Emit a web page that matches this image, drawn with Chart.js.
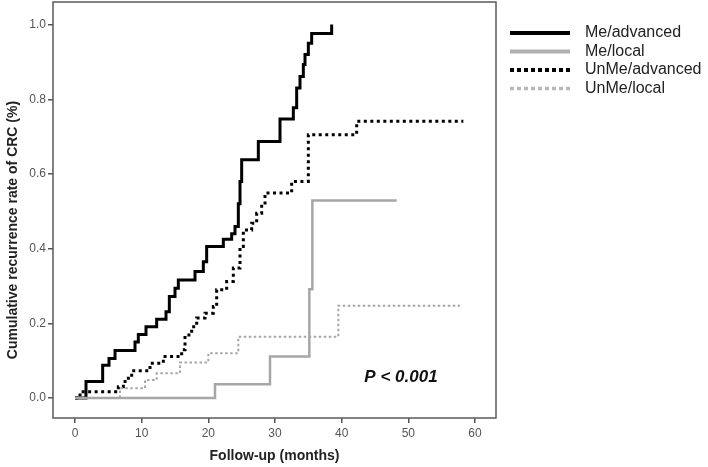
<!DOCTYPE html>
<html>
<head>
<meta charset="utf-8">
<script src="https://cdn.jsdelivr.net/npm/chart.js@4.4.1/dist/chart.umd.min.js"></script>
<style>
  html, body { margin: 0; padding: 0; background: #ffffff; }
  #wrap { width: 708px; height: 467px; }
</style>
</head>
<body>
<div id="wrap"><canvas id="c" width="708" height="467"></canvas></div>
<script>
// ---- data (months, cumulative recurrence rate) ----
const xTickValues = [0, 10, 20, 30, 40, 50, 60];
const yTickValues = [0, 0.2, 0.4, 0.6, 0.8, 1.0];

const seriesNames = ["Me/advanced", "Me/local", "UnMe/advanced", "UnMe/local"];

const meAdvTimes  = [0, 1.65, 4.15, 5.1, 6, 9, 9.5, 10.65, 12.25, 13.65, 14.15, 15, 15.5, 18, 19.25, 19.75, 22.25, 23.5, 24, 24.5, 24.75, 25, 27.5, 30.75, 32.75, 33.25, 33.75, 34.25, 34.5, 35, 35.5, 38.5];
const meAdvValues = [0, 0.044, 0.088, 0.106, 0.127, 0.15, 0.17, 0.191, 0.211, 0.231, 0.272, 0.294, 0.316, 0.339, 0.365, 0.406, 0.425, 0.44, 0.459, 0.52, 0.58, 0.638, 0.687, 0.747, 0.777, 0.83, 0.861, 0.893, 0.92, 0.95, 0.976, 1.0];

const meLocTimes  = [0, 21, 29.25, 35.15, 35.6, 48.25];
const meLocValues = [0, 0.037, 0.111, 0.291, 0.529, 0.529];

const unAdvTimes  = [0, 0.75, 6.5, 7.25, 8, 8.5, 11.25, 13.25, 16, 16.5, 17.5, 18.25, 19.5, 20.75, 21.25, 22.75, 23.75, 24.75, 25.25, 26.5, 27.25, 28, 28.5, 32.5, 35, 42.25, 58.25];
const unAdvValues = [0, 0.017, 0.03, 0.044, 0.057, 0.073, 0.093, 0.111, 0.129, 0.169, 0.191, 0.214, 0.227, 0.245, 0.29, 0.312, 0.348, 0.406, 0.45, 0.468, 0.495, 0.522, 0.549, 0.58, 0.705, 0.741, 0.741];

const unLocTimes  = [0, 6.75, 10.5, 12.25, 15.75, 20, 24.5, 39.5, 57.75];
const unLocValues = [0, 0.026, 0.048, 0.066, 0.095, 0.12, 0.164, 0.247, 0.247];

const pValueText = "P < 0.001";
const pValueX = 48.9;
const pValueY = 0.056;

// ---- build ----
const pts = (t, v) => t.map((x, i) => ({ x: x, y: v[i] }));
const styles = [
  { color: '#000000', width: 3, dash: [] },
  { color: '#a6a6a6', width: 2.5, dash: [] },
  { color: '#000000', width: 3, dash: [3, 3.5] },
  { color: '#a6a6a6', width: 2, dash: [2.5, 2.5] }
];
const dataArrays = [
  pts(meAdvTimes, meAdvValues),
  pts(meLocTimes, meLocValues),
  pts(unAdvTimes, unAdvValues),
  pts(unLocTimes, unLocValues)
];
const drawOrder = [3, 1, 2, 0];
const datasets = drawOrder.map(i => ({
  label: seriesNames[i],
  data: dataArrays[i],
  borderColor: styles[i].color,
  borderWidth: styles[i].width,
  borderDash: styles[i].dash,
  borderCapStyle: 'butt',
  stepped: true,
  pointRadius: 0,
  fill: false,
  tension: 0
}));

Chart.defaults.font.family = "'Liberation Sans', Arial, sans-serif";

const decor = {
  id: 'decor',
  beforeDatasetsDraw(chart) {
    const ctx = chart.ctx, a = chart.chartArea;
    ctx.save();
    ctx.strokeStyle = '#5a5a5a';
    ctx.lineWidth = 1.5;
    ctx.strokeRect(a.left, a.top, a.right - a.left, a.bottom - a.top);
    ctx.restore();
  },
  afterDraw(chart) {
    const ctx = chart.ctx;
    const xs = chart.scales.x, ys = chart.scales.y;
    ctx.save();
    // y axis title
    ctx.translate(13, 230);
    ctx.rotate(-Math.PI / 2);
    ctx.font = "bold 14px 'Liberation Sans', Arial, sans-serif";
    ctx.fillStyle = '#222222';
    ctx.textAlign = 'center';
    ctx.textBaseline = 'middle';
    ctx.fillText('Cumulative recurrence rate of CRC (%)', 0, 0);
    ctx.restore();

    // p value
    ctx.save();
    ctx.font = "italic bold 17px 'Liberation Sans', Arial, sans-serif";
    ctx.fillStyle = '#111111';
    ctx.textAlign = 'center';
    ctx.textBaseline = 'middle';
    ctx.fillText(pValueText, xs.getPixelForValue(pValueX), ys.getPixelForValue(pValueY));
    ctx.restore();

    // legend
    const rows = [33, 51.5, 70, 88.5];
    const legStyles = [
      { color: '#000000', width: 4, dash: [] },
      { color: '#b0b0b0', width: 4, dash: [] },
      { color: '#000000', width: 4, dash: [4, 3] },
      { color: '#b8b8b8', width: 3.5, dash: [4, 3] }
    ];
    ctx.save();
    seriesNames.forEach((name, i) => {
      const y = rows[i];
      const s = legStyles[i];
      ctx.beginPath();
      ctx.strokeStyle = s.color;
      ctx.lineWidth = s.width;
      ctx.setLineDash(s.dash);
      ctx.moveTo(510, y);
      ctx.lineTo(570, y);
      ctx.stroke();
      ctx.setLineDash([]);
      ctx.font = "16px 'Liberation Sans', Arial, sans-serif";
      ctx.fillStyle = '#222222';
      ctx.textAlign = 'left';
      ctx.textBaseline = 'middle';
      ctx.fillText(name, 585, y);
    });
    ctx.restore();
  }
};

new Chart(document.getElementById('c'), {
  type: 'line',
  data: { datasets: datasets },
  options: {
    responsive: false,
    animation: false,
    devicePixelRatio: 1,
    layout: { padding: { left: 0, right: 212, top: 2, bottom: 0 } },
    plugins: { legend: { display: false }, tooltip: { enabled: false } },
    scales: {
      x: {
        type: 'linear',
        min: -3.3,
        max: 63.15,
        afterBuildTicks: s => { s.ticks = xTickValues.map(v => ({ value: v })); },
        afterFit: s => { s.height = 49; s.paddingLeft = 0; s.paddingRight = 0; },
        ticks: {
          color: '#555555',
          font: { size: 12 },
          padding: 3,
          maxRotation: 0,
          autoSkip: false,
          callback: v => String(v)
        },
        grid: { drawOnChartArea: false, tickLength: 5, color: '#555555', lineWidth: 1.5 },
        border: { display: false },
        title: {
          display: true,
          text: 'Follow-up (months)',
          color: '#222222',
          font: { size: 14, weight: 'bold' },
          padding: { top: 0, bottom: 2 }
        }
      },
      y: {
        type: 'linear',
        min: -0.0536,
        max: 1.0605,
        afterBuildTicks: s => { s.ticks = yTickValues.map(v => ({ value: v })); },
        afterFit: s => { s.width = 53; s.paddingTop = 0; s.paddingBottom = 0; },
        ticks: {
          color: '#555555',
          font: { size: 12 },
          padding: 2,
          autoSkip: false,
          callback: v => Number(v).toFixed(1)
        },
        grid: { drawOnChartArea: false, tickLength: 5, color: '#555555', lineWidth: 1.5 },
        border: { display: false }
      }
    }
  },
  plugins: [decor]
});
</script>
</body>
</html>
